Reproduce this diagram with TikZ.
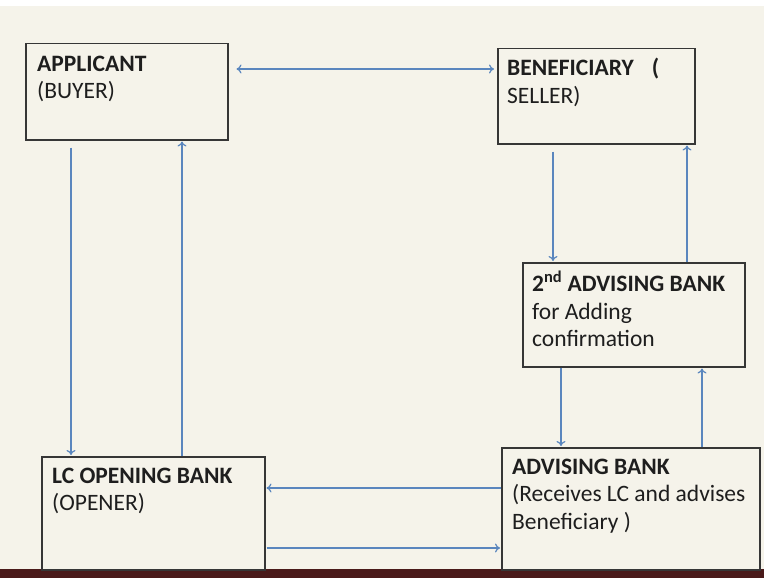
\documentclass[tikz,border=0pt]{standalone}
\usepackage{fontspec}
\setmainfont{Carlito}
\usetikzlibrary{arrows.meta}
\definecolor{bg}{HTML}{F5F3EA}
\definecolor{barc}{HTML}{4A1A1A}
\definecolor{arrc}{HTML}{5A86BE}
\definecolor{edgec}{HTML}{363636}
\definecolor{txtc}{HTML}{1E1E1E}
\newcommand{\topstrut}{\rule{0pt}{16pt}}
\begin{document}
\begin{tikzpicture}[x=1pt,y=-1pt,
  box/.style={draw=edgec, line width=1.5pt, fill=bg, rectangle, inner sep=0pt, anchor=north west},
  txt/.style={anchor=north west, align=left, inner sep=0pt, text=txtc, font=\fontsize{23.5}{27.5}\selectfont},
  link/.style={draw=arrc, line width=1.2pt, -{To[length=5pt,width=9pt]}},
  dlink/.style={draw=arrc, line width=1.2pt, {To[length=5pt,width=9pt]}-{To[length=5pt,width=9pt]}}]
\useasboundingbox (0,0) rectangle (764,578);
\fill[bg] (0,0) rectangle (764,578);
\fill[white] (0,0) rectangle (764,6);
\fill[barc] (0,569) rectangle (764,578);

\node[box, minimum width=202pt, minimum height=96pt] (app) at (25,43) {};
\node[box, minimum width=197pt, minimum height=95pt] (ben) at (497,48) {};
\node[box, minimum width=222pt, minimum height=104pt] (adv2) at (522,262) {};
\node[box, minimum width=223pt, minimum height=113pt] (lco) at (41,456) {};
\node[box, minimum width=258pt, minimum height=122pt] (adv) at (501,447) {};

\node[txt] (appt) at ([shift={(12pt,-12pt)}]app.north west) {\topstrut\textbf{APPLICANT}\\(BUYER)};
\node[txt] (bent) at ([shift={(10pt,-10pt)}]ben.north west) {\topstrut\textbf{BENEFICIARY\hspace{18pt}(}\\SELLER)};
\node[txt] (adv2t) at ([shift={(10pt,-9pt)}]adv2.north west) {\topstrut\textbf{2\textsuperscript{nd} ADVISING BANK}\\for Adding\\confirmation};
\node[txt] (lcot) at ([shift={(11pt,-11pt)}]lco.north west) {\topstrut\textbf{LC OPENING BANK}\\(OPENER)};
\node[txt] (advt) at ([shift={(11pt,-11pt)}]adv.north west) {\topstrut\textbf{ADVISING BANK}\\(Receives LC and advises\\Beneficiary )};

\draw[dlink] ([shift={(8pt,-26pt)}]app.north east) -- ([shift={(-3pt,-21pt)}]ben.north west);
\draw[link] ([shift={(46pt,-7pt)}]app.south west) -- ([shift={(30pt,1pt)}]lco.north west);
\draw[link] ([xshift=141pt]lco.north west) -- ([shift={(157pt,-1pt)}]app.south west);
\draw[link] ([shift={(56pt,-7pt)}]ben.south west) -- ([shift={(31pt,1pt)}]adv2.north west);
\draw[link] ([xshift=165pt]adv2.north west) -- ([shift={(190pt,-1pt)}]ben.south west);
\draw[link] ([xshift=39pt]adv2.south west) -- ([shift={(60pt,1pt)}]adv.north west);
\draw[link] ([xshift=201pt]adv.north west) -- ([shift={(180pt,-1pt)}]adv2.south west);
\draw[link] ([yshift=-41pt]adv.north west) -- ([shift={(1pt,-32pt)}]lco.north east);
\draw[link] ([shift={(1pt,-92pt)}]lco.north east) -- ([shift={(-1pt,-101pt)}]adv.north west);
\end{tikzpicture}
\end{document}
